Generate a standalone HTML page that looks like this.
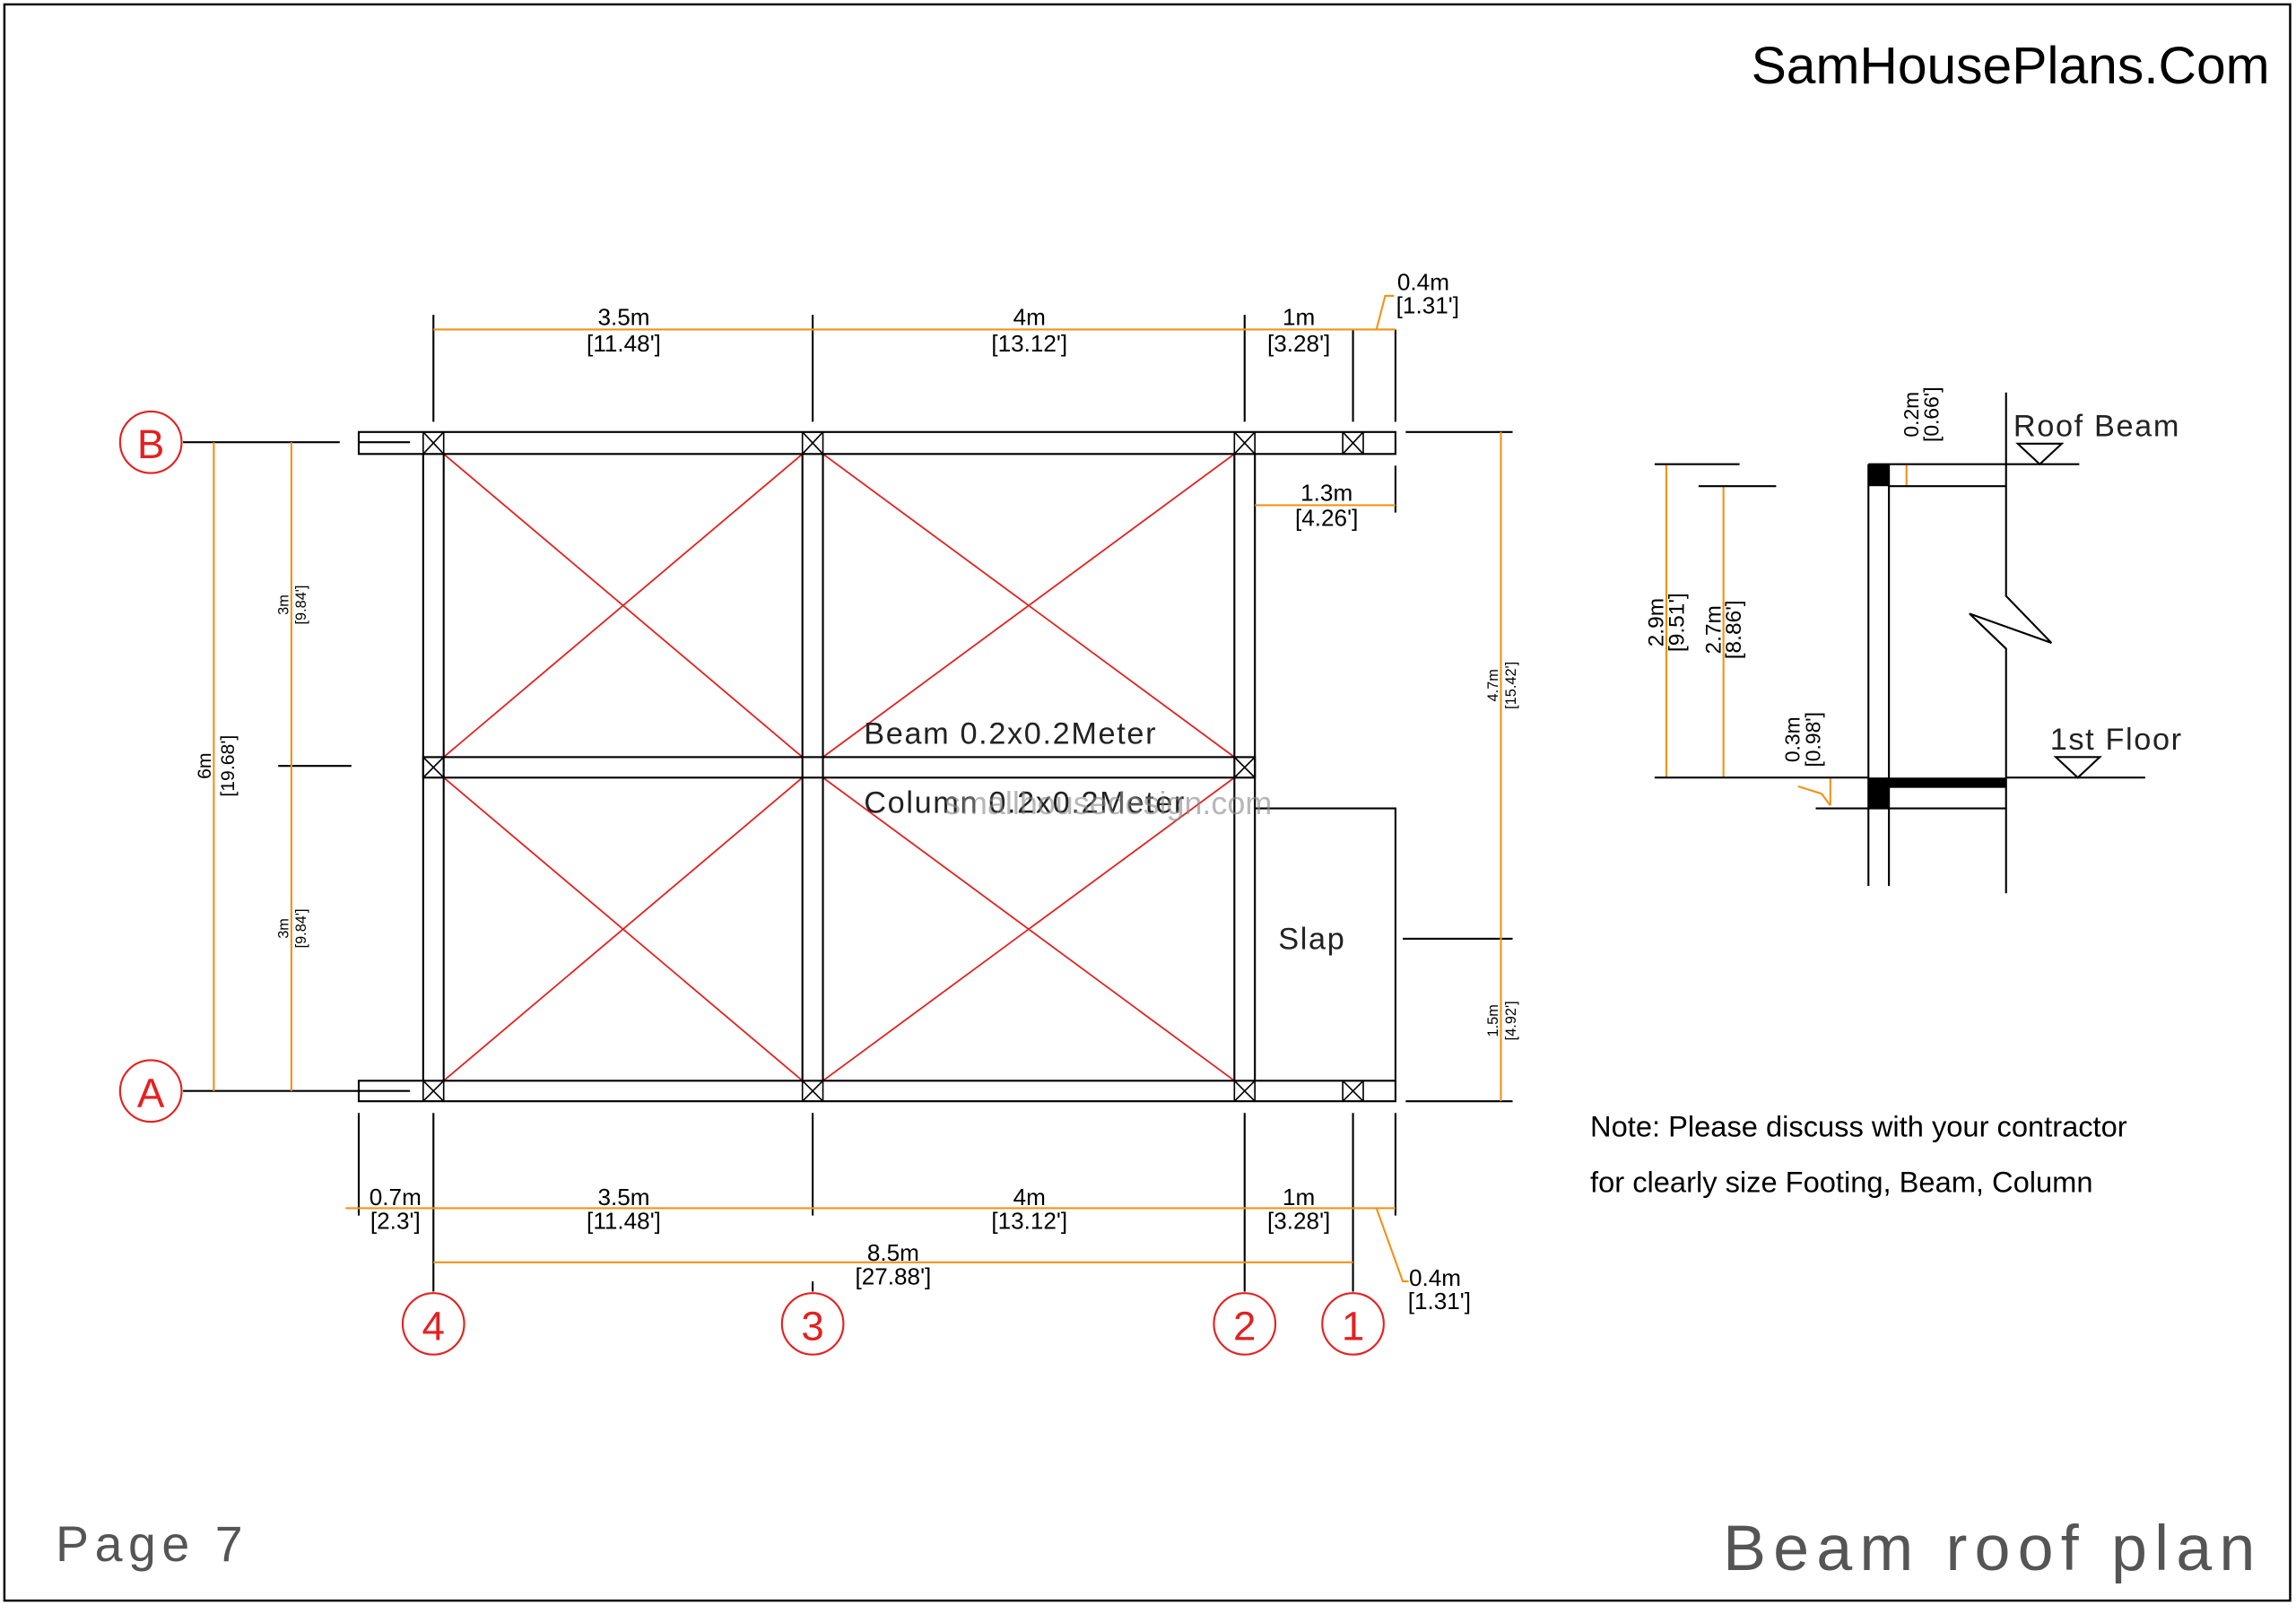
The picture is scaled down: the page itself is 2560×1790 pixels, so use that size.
<!DOCTYPE html>
<html><head><meta charset="utf-8"><style>html,body{margin:0;padding:0;background:#fff}svg{display:block}</style></head>
<body>
<svg width="2560" height="1790" viewBox="0 0 1568 1096" preserveAspectRatio="none" xmlns="http://www.w3.org/2000/svg" font-family="Liberation Sans, sans-serif">
<rect x="0" y="0" width="1568" height="1096" fill="#fff"/>
<rect x="3" y="3" width="1561" height="1090" fill="none" stroke="#000" stroke-width="1.5"/>
<text x="1550" y="57" font-size="36" text-anchor="end" fill="#000">SamHousePlans.Com</text>
<text x="38" y="1066" font-size="34" fill="#555" letter-spacing="4">Page 7</text>
<text x="1545" y="1072" font-size="44" fill="#555" text-anchor="end" letter-spacing="5">Beam  roof  plan</text>

<g stroke="#e52020" stroke-width="1.1">
<line x1="303" y1="310" x2="548" y2="517"/><line x1="548" y1="310" x2="303" y2="517"/>
<line x1="562" y1="310" x2="843" y2="517"/><line x1="843" y1="310" x2="562" y2="517"/>
<line x1="303" y1="531" x2="548" y2="738"/><line x1="548" y1="531" x2="303" y2="738"/>
<line x1="562" y1="531" x2="843" y2="738"/><line x1="843" y1="531" x2="562" y2="738"/>
</g>

<g stroke="#000" stroke-width="1.3" fill="none">
<rect x="245" y="295" width="708" height="15"/>
<rect x="245" y="738" width="708" height="14"/>
<rect x="289" y="517" width="568" height="14"/>
<line x1="289" y1="310" x2="289" y2="738"/><line x1="303" y1="310" x2="303" y2="738"/>
<line x1="548" y1="310" x2="548" y2="738"/><line x1="562" y1="310" x2="562" y2="738"/>
<line x1="843" y1="310" x2="843" y2="738"/><line x1="857" y1="310" x2="857" y2="738"/>
<polyline points="857,552 953,552 953,738"/>
<line x1="245" y1="302" x2="280" y2="302"/><line x1="245" y1="745" x2="280" y2="745"/>
<g stroke-width="1">
<rect x="289" y="295" width="14" height="15"/><line x1="289" y1="295" x2="303" y2="310"/><line x1="303" y1="295" x2="289" y2="310"/>
<rect x="548" y="295" width="14" height="15"/><line x1="548" y1="295" x2="562" y2="310"/><line x1="562" y1="295" x2="548" y2="310"/>
<rect x="843" y="295" width="14" height="15"/><line x1="843" y1="295" x2="857" y2="310"/><line x1="857" y1="295" x2="843" y2="310"/>
<rect x="917" y="295" width="14" height="15"/><line x1="917" y1="295" x2="931" y2="310"/><line x1="931" y1="295" x2="917" y2="310"/>
<rect x="289" y="517" width="14" height="14"/><line x1="289" y1="517" x2="303" y2="531"/><line x1="303" y1="517" x2="289" y2="531"/>
<rect x="843" y="517" width="14" height="14"/><line x1="843" y1="517" x2="857" y2="531"/><line x1="857" y1="517" x2="843" y2="531"/>
<rect x="289" y="738" width="14" height="14"/><line x1="289" y1="738" x2="303" y2="752"/><line x1="303" y1="738" x2="289" y2="752"/>
<rect x="548" y="738" width="14" height="14"/><line x1="548" y1="738" x2="562" y2="752"/><line x1="562" y1="738" x2="548" y2="752"/>
<rect x="843" y="738" width="14" height="14"/><line x1="843" y1="738" x2="857" y2="752"/><line x1="857" y1="738" x2="843" y2="752"/>
<rect x="917" y="738" width="14" height="14"/><line x1="917" y1="738" x2="931" y2="752"/><line x1="931" y1="738" x2="917" y2="752"/>
</g>
<line x1="296" y1="215" x2="296" y2="288"/><line x1="555" y1="215" x2="555" y2="288"/>
<line x1="850" y1="215" x2="850" y2="288"/><line x1="924" y1="225" x2="924" y2="288"/>
<line x1="953" y1="225" x2="953" y2="288"/><line x1="953" y1="318" x2="953" y2="350"/>
<line x1="245" y1="760" x2="245" y2="830"/><line x1="296" y1="760" x2="296" y2="882"/>
<line x1="555" y1="760" x2="555" y2="830"/><line x1="850" y1="760" x2="850" y2="882"/>
<line x1="924" y1="760" x2="924" y2="882"/><line x1="953" y1="760" x2="953" y2="830"/>
<line x1="555" y1="882" x2="555" y2="875"/>
<line x1="125" y1="302" x2="232" y2="302"/><line x1="125" y1="745" x2="245" y2="745"/>
<line x1="190" y1="523" x2="240" y2="523"/>
<line x1="960" y1="295" x2="1033" y2="295"/><line x1="960" y1="752" x2="1033" y2="752"/>
<line x1="958" y1="641" x2="1033" y2="641"/>
</g>

<g stroke="#f0931a" stroke-width="1.3" fill="none">
<line x1="296" y1="225" x2="953" y2="225"/>
<line x1="857" y1="345" x2="953" y2="345"/>
<line x1="236" y1="825" x2="953" y2="825"/>
<line x1="296" y1="862" x2="924" y2="862"/>
<line x1="146" y1="302" x2="146" y2="745"/>
<line x1="199" y1="302" x2="199" y2="745"/>
<line x1="1025" y1="295" x2="1025" y2="752"/>
<polyline points="940,225 946,202 952,202"/>
<polyline points="940,825 958,875 962,875"/>
<line x1="1138" y1="317" x2="1138" y2="531"/>
<line x1="1177" y1="332" x2="1177" y2="531"/>
<line x1="1302" y1="317" x2="1302" y2="332"/>
<polyline points="1250,531 1250,550"/>
<polyline points="1228,537 1244,542 1250,550"/>
</g>

<g stroke="#e52020" stroke-width="1.3" fill="none">
<circle cx="103" cy="302" r="21"/><circle cx="103" cy="745" r="21"/>
<circle cx="296" cy="904" r="21"/><circle cx="555" cy="904" r="21"/>
<circle cx="850" cy="904" r="21"/><circle cx="924" cy="904" r="21"/>
</g>
<g fill="#e52020" font-size="28" text-anchor="middle">
<text x="103" y="313">B</text><text x="103" y="756">A</text>
<text x="296" y="915">4</text><text x="555" y="915">3</text>
<text x="850" y="915">2</text><text x="924" y="915">1</text>
</g>

<g fill="#000" font-size="16" text-anchor="middle">
<text x="426" y="222">3.5m</text><text x="426" y="240">[11.48']</text>
<text x="703" y="222">4m</text><text x="703" y="240">[13.12']</text>
<text x="887" y="222">1m</text><text x="887" y="240">[3.28']</text>
<text x="972" y="198">0.4m</text><text x="975" y="214">[1.31']</text>
<text x="906" y="342">1.3m</text><text x="906" y="359">[4.26']</text>
<text x="270" y="823">0.7m</text><text x="270" y="839">[2.3']</text>
<text x="426" y="823">3.5m</text><text x="426" y="839">[11.48']</text>
<text x="703" y="823">4m</text><text x="703" y="839">[13.12']</text>
<text x="887" y="823">1m</text><text x="887" y="839">[3.28']</text>
<text x="610" y="861">8.5m</text><text x="610" y="877">[27.88']</text>
<text x="980" y="878">0.4m</text><text x="983" y="894">[1.31']</text>
</g>
<g fill="#000" font-size="13" text-anchor="middle">
<text transform="translate(144,523) rotate(-90)">6m</text><text transform="translate(160,523) rotate(-90)">[19.68']</text>
<text transform="translate(197,413) rotate(-90)" font-size="10">3m</text><text transform="translate(209,413) rotate(-90)" font-size="10">[9.84']</text>
<text transform="translate(197,634) rotate(-90)" font-size="10">3m</text><text transform="translate(209,634) rotate(-90)" font-size="10">[9.84']</text>
<text transform="translate(1023,468) rotate(-90)" font-size="10">4.7m</text><text transform="translate(1035,468) rotate(-90)" font-size="10">[15.42']</text>
<text transform="translate(1023,697) rotate(-90)" font-size="10">1.5m</text><text transform="translate(1035,697) rotate(-90)" font-size="10">[4.92']</text>
<text transform="translate(1136,425) rotate(-90)" font-size="15">2.9m</text><text transform="translate(1150,425) rotate(-90)" font-size="15">[9.51']</text>
<text transform="translate(1175,430) rotate(-90)" font-size="15">2.7m</text><text transform="translate(1189,430) rotate(-90)" font-size="15">[8.86']</text>
<text transform="translate(1310,283) rotate(-90)" font-size="14">0.2m</text><text transform="translate(1324,283) rotate(-90)" font-size="14">[0.66']</text>
<text transform="translate(1229,505) rotate(-90)" font-size="14">0.3m</text><text transform="translate(1243,505) rotate(-90)" font-size="14">[0.98']</text>
</g>

<g fill="#222" font-size="21" letter-spacing="1">
<text x="590" y="508">Beam  0.2x0.2Meter</text>
<text x="590" y="555">Column  0.2x0.2Meter</text>
<text x="873" y="648">Slap</text>
<text x="1375" y="298">Roof  Beam</text>
<text x="1400" y="512">1st  Floor</text>
</g>
<text x="645" y="556" font-size="22" fill="#888" opacity="0.6">smallhousedesign.com</text>

<text x="1086" y="776" font-size="20" fill="#000">Note: Please discuss with your contractor</text>
<text x="1086" y="814" font-size="20" fill="#000">for clearly size Footing, Beam, Column</text>

<g stroke="#000" stroke-width="1.3" fill="none">
<line x1="1276" y1="317" x2="1276" y2="605"/><line x1="1290" y1="317" x2="1290" y2="605"/>
<polyline points="1370,268 1370,407 1401,439 1345,419 1370,443 1370,610"/>
<line x1="1276" y1="317" x2="1420" y2="317"/>
<line x1="1290" y1="332" x2="1370" y2="332"/>
<line x1="1130" y1="317" x2="1188" y2="317"/>
<line x1="1160" y1="332" x2="1213" y2="332"/>
<line x1="1130" y1="531" x2="1276" y2="531"/>
<line x1="1370" y1="531" x2="1465" y2="531"/>
<line x1="1240" y1="552" x2="1370" y2="552"/>
<polygon points="1378,303 1408,303 1393,317"/>
<polygon points="1404,517 1434,517 1419,531"/>
</g>
<g fill="#000">
<rect x="1276" y="317" width="14" height="15"/>
<rect x="1276" y="531" width="94" height="7"/>
<rect x="1276" y="531" width="14" height="21"/>
</g>
</svg>
</body></html>
